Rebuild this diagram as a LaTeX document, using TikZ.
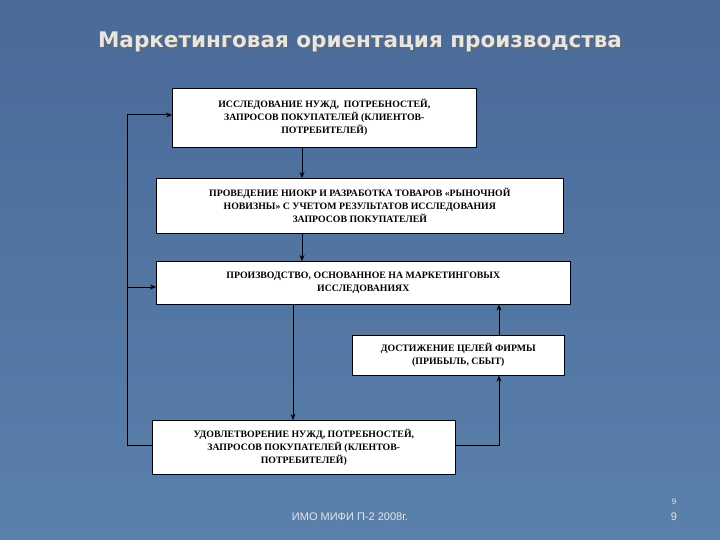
\documentclass[tikz,border=0pt]{standalone}
\usepackage{fontspec}
\setmainfont{Liberation Serif}
\newfontfamily\sansf{Liberation Sans}
\newfontfamily\titlef{DejaVu Sans}
\usetikzlibrary{arrows.meta}
\definecolor{bgtop}{HTML}{4A6A98}
\definecolor{bgbot}{HTML}{5A80AC}
\definecolor{ttl}{HTML}{E6E6E6}
\tikzset{
 bx/.style={draw=black,fill=white,line width=0.6pt,align=center,inner sep=0pt,
  font=\bfseries\fontsize{9.8}{13}\selectfont,anchor=north west},
 ar/.style={-{Stealth[length=6pt,width=5pt]},line width=1pt},
 ln/.style={line width=1pt}
}
\begin{document}
\begin{tikzpicture}[x=1pt,y=-1pt]
\shade[top color=bgtop,bottom color=bgbot] (0,0) rectangle (720,540);
\useasboundingbox (0,0) rectangle (720,540);
\node[font=\titlef\bfseries\fontsize{21.5}{24}\selectfont,text=black!60] at (361.5,43.5) {Маркетинговая ориентация производства};
\node[font=\titlef\bfseries\fontsize{21.5}{24}\selectfont,text=ttl] (t) at (360,42) {Маркетинговая ориентация производства};
\node[bx,minimum width=304,minimum height=59] (b1) at (172,88) {ИССЛЕДОВАНИЕ НУЖД,\ \ ПОТРЕБНОСТЕЙ,\\ЗАПРОСОВ ПОКУПАТЕЛЕЙ (КЛИЕНТОВ-\\ПОТРЕБИТЕЛЕЙ)};
\node[bx,minimum width=407,minimum height=55] (b2) at (156,178) {ПРОВЕДЕНИЕ НИОКР И РАЗРАБОТКА ТОВАРОВ «РЫНОЧНОЙ\\НОВИЗНЫ» С УЧЕТОМ РЕЗУЛЬТАТОВ ИССЛЕДОВАНИЯ\\ЗАПРОСОВ ПОКУПАТЕЛЕЙ};
\node[bx,minimum width=414,minimum height=43] (b3) at (156,261) {ПРОИЗВОДСТВО, ОСНОВАННОЕ НА МАРКЕТИНГОВЫХ\\ИССЛЕДОВАНИЯХ};
\node[bx,minimum width=212,minimum height=40] (b4) at (352,335) {ДОСТИЖЕНИЕ ЦЕЛЕЙ ФИРМЫ\\(ПРИБЫЛЬ, СБЫТ)};
\node[bx,minimum width=303,minimum height=54] (b5) at (152,420) {УДОВЛЕТВОРЕНИЕ НУЖД, ПОТРЕБНОСТЕЙ,\\ЗАПРОСОВ ПОКУПАТЕЛЕЙ (КЛЕНТОВ-\\ПОТРЕБИТЕЛЕЙ)};
\draw[ar] (b1.south -| 302,0) -- (b2.north -| 302,0);
\draw[ar] (b2.south -| 302,0) -- (b3.north -| 302,0);
\draw[ar] (b3.south -| 293,0) -- (b5.north -| 293,0);
\draw[ar] (b4.north -| 499,0) -- (b3.south -| 499,0);
\draw[ar] (b5.east |- 0,445) -- (499,445) -- (b4.south -| 499,0);
\coordinate (lc) at (127,445);
\draw[ln] (b5.west |- 0,445) -- (lc) -- (127,115);
\draw[ar] (127,115) -- (b1.west |- 0,115);
\draw[ar] (127,287) -- (b3.west |- 0,287);
\node[font=\sansf\fontsize{11}{13}\selectfont,text=ttl] (f) at (350,517) {ИМО МИФИ П-2 2008г.};
\node[font=\sansf\fontsize{8}{9}\selectfont,text=ttl] (n1) at (674,502) {9};
\node[font=\sansf\fontsize{11}{13}\selectfont,text=ttl] (n2) at (674,517) {9};
\end{tikzpicture}
\end{document}
